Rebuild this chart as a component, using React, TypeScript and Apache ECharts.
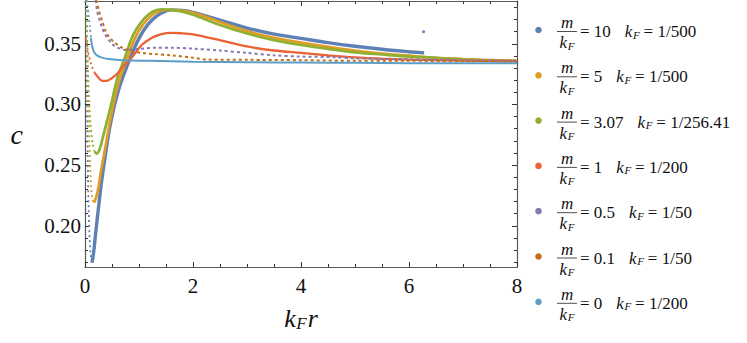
import React, { useEffect, useRef } from 'react';
import * as echarts from 'echarts';

// ---- legend / series meta ----
const massRatios = ['10', '5', '3.07', '1', '0.5', '0.1', '0'];
const kFValues = ['1/500', '1/500', '1/256.41', '1/200', '1/50', '1/50', '1/200'];
const colors = ['#5E81B5', '#E19C24', '#8FB032', '#EB6235', '#8778B3', '#C56E1A', '#5D9EC7'];

// ---- ticks ----
const xMin = 0;
const xMax = 8;
const xInterval = 2;
const yMin = 0.166;
const yMax = 0.3853;
const yMajorTicks = [0.2, 0.25, 0.3, 0.35];
const yMinorTicks = [0.17, 0.18, 0.19, 0.21, 0.22, 0.23, 0.24, 0.26, 0.27, 0.28, 0.29, 0.31, 0.32, 0.33, 0.34, 0.36, 0.37, 0.38];

// ---- data: [k_F r, c] ----
const m10Near: [number, number][] = [
  [0.02, 0.386], [0.035, 0.33], [0.05, 0.26], [0.07, 0.21], [0.1, 0.178], [0.13, 0.1695],
];
const m10: [number, number][] = [
  [0.13, 0.1695], [0.16, 0.178],
  [0.2, 0.195], [0.25, 0.215], [0.3, 0.234], [0.37, 0.256], [0.45, 0.279], [0.55, 0.3], [0.65, 0.316],
  [0.8, 0.334], [0.95, 0.35], [1.1, 0.362], [1.25, 0.37], [1.4, 0.375], [1.6, 0.378], [1.8, 0.3775],
  [2, 0.376], [2.5, 0.3695], [3, 0.363], [3.5, 0.358], [4, 0.3545], [4.5, 0.351], [5, 0.348], [5.5, 0.3455],
  [6, 0.3435], [6.28, 0.3425],
];
const m10Outlier: [number, number][] = [[6.27, 0.36]];
const m5Near: [number, number][] = [
  [0.03, 0.386], [0.05, 0.33], [0.08, 0.27], [0.11, 0.235], [0.14, 0.221], [0.17, 0.219],
];
const m5: [number, number][] = [
  [0.17, 0.219], [0.21, 0.224],
  [0.25, 0.232], [0.3, 0.246], [0.37, 0.263], [0.45, 0.283], [0.55, 0.305], [0.65, 0.322], [0.78, 0.338],
  [0.9, 0.352], [1.0, 0.361], [1.15, 0.37], [1.3, 0.3755], [1.5, 0.378], [1.7, 0.3778], [2, 0.3755],
  [2.5, 0.368], [3, 0.3605], [3.5, 0.355], [4, 0.351], [4.5, 0.3475], [5, 0.3445], [5.5, 0.342],
  [6, 0.3402], [6.5, 0.3385], [7, 0.3375], [7.5, 0.3365], [8, 0.336],
];
const m307Near: [number, number][] = [
  [0.02, 0.386], [0.04, 0.35], [0.07, 0.31], [0.1, 0.285], [0.14, 0.268], [0.18, 0.261],
];
const m307: [number, number][] = [
  [0.18, 0.261], [0.22, 0.2595],
  [0.27, 0.263], [0.32, 0.271], [0.4, 0.285], [0.5, 0.303], [0.6, 0.322], [0.74, 0.339], [0.85, 0.353],
  [0.95, 0.362], [1.1, 0.371], [1.25, 0.3765], [1.4, 0.3785], [1.6, 0.378], [1.8, 0.3765], [2, 0.374],
  [2.5, 0.3655], [3, 0.3585], [3.5, 0.353], [4, 0.349], [4.5, 0.3458], [5, 0.343], [5.5, 0.3412],
  [6, 0.3395], [6.5, 0.3385], [7, 0.337], [7.5, 0.3362], [8, 0.3358],
];
const m1Near: [number, number][] = [
  [0.02, 0.355], [0.05, 0.345], [0.09, 0.337], [0.13, 0.331], [0.18, 0.326],
];
const m1: [number, number][] = [
  [0.18, 0.326], [0.25, 0.322], [0.32, 0.3195],
  [0.4, 0.3195], [0.5, 0.3218], [0.6, 0.3255], [0.7, 0.331], [0.87, 0.339], [1.05, 0.349], [1.24, 0.355],
  [1.4, 0.3578], [1.6, 0.359], [1.8, 0.3587], [2, 0.3578], [2.5, 0.353], [3, 0.3478], [3.5, 0.3445],
  [4, 0.3425], [4.5, 0.3405], [5, 0.3388], [5.5, 0.3377], [6, 0.337], [7, 0.3362], [8, 0.3358],
];
const m05: [number, number][] = [
  [0.2, 0.386], [0.22, 0.378], [0.26, 0.371], [0.31, 0.364], [0.36, 0.359], [0.41, 0.355], [0.48, 0.351],
  [0.55, 0.348], [0.65, 0.346], [0.74, 0.345], [0.9, 0.3455], [1.1, 0.3462], [1.3, 0.3468], [1.6, 0.3468],
  [2, 0.346], [2.5, 0.3445], [3, 0.3425], [3.5, 0.3405], [4, 0.3395], [4.6, 0.339], [5, 0.338],
  [6, 0.3372], [7, 0.3365], [8, 0.336],
];
const m01: [number, number][] = [
  [0.2, 0.386], [0.22, 0.384], [0.26, 0.377], [0.31, 0.37], [0.37, 0.362], [0.44, 0.356], [0.55, 0.351],
  [0.69, 0.3467], [0.85, 0.344], [1.05, 0.3425], [1.3, 0.3415], [1.6, 0.3405], [2, 0.3385], [2.26, 0.337],
  [3, 0.3368], [4, 0.3365], [5, 0.336], [6, 0.336], [7, 0.3356], [8, 0.3355],
];
const m0Near: [number, number][] = [
  [0.03, 0.386], [0.05, 0.38], [0.07, 0.372], [0.09, 0.364], [0.11, 0.355],
];
const m0: [number, number][] = [
  [0.11, 0.355], [0.13, 0.3485], [0.17, 0.343],
  [0.22, 0.3405], [0.3, 0.3388], [0.44, 0.3375], [0.7, 0.3365], [1.2, 0.336], [2, 0.3352], [3, 0.3348],
  [4, 0.3345], [5, 0.3343], [6, 0.334], [7, 0.334], [8, 0.334],
];

const mainData = [m10, m5, m307, m1, m05, m01, m0];
const nearData: ([number, number][] | null)[] = [m10Near, m5Near, m307Near, m1Near, null, null, m0Near];
const lineWidths = [3.4, 2.7, 2.7, 2.3, 2, 2, 2];
const lineTypes: any[] = ['solid', 'solid', 'solid', 'solid', [3, 3], [3, 3], 'solid'];

const LS = 'Liberation Serif';

// approximate advance widths (em) of Liberation Serif glyphs used for placing sub/superscripts
const EM_ITALIC_K = 0.444;
const EM_ITALIC_F = 0.611;
const EM_ITALIC_R = 0.389;
const EM_DIGIT = 0.5;
const EM_EQ = 0.564;
const EM_SPACE = 0.25;
const EM_DOT = 0.25;

function plainWidth(t: string, size: number) {
  let w = 0;
  for (const ch of t) {
    if (ch === '=') w += EM_EQ;
    else if (ch === ' ') w += EM_SPACE;
    else if (ch === '.') w += EM_DOT;
    else w += EM_DIGIT;
  }
  return w * size;
}

export default function App() {
  const ref = useRef<HTMLDivElement>(null);

  useEffect(() => {
    if (!ref.current) return;
    const chart = echarts.init(ref.current, null, { renderer: 'svg' });

    const series: any[] = [];
    mainData.forEach((d, i) => {
      const near = nearData[i];
      if (near) {
        series.push({
          type: 'line', data: near, showSymbol: false, smooth: 0.3,
          lineStyle: { color: colors[i], width: 1.8, type: [2, 3] },
          itemStyle: { color: colors[i] },
        });
      }
      series.push({
        type: 'line', data: d, showSymbol: false, smooth: 0.3,
        lineStyle: { color: colors[i], width: lineWidths[i], type: lineTypes[i] },
        itemStyle: { color: colors[i] },
      });
    });
    series.push({
      type: 'line', data: m10Outlier, showSymbol: true, symbol: 'circle', symbolSize: 3,
      lineStyle: { width: 0 }, itemStyle: { color: colors[0], borderWidth: 0 },
    });

    const txt = '#111';
    const T = (text: string, x: number, y: number, size: number, italic: boolean) => {
      const style: any = { text, fontFamily: LS, fontSize: size, fill: txt, verticalAlign: 'middle' };
      if (italic) style.fontStyle = 'italic';
      return { type: 'text', x, y, style };
    };

    const els: any[] = [];
    massRatios.forEach((mr, i) => {
      const yc = 31.5 + 45.3 * i;
      els.push({ type: 'circle', shape: { cx: 538.5, cy: yc - 1.5, r: 3.3 }, style: { fill: colors[i] } });
      // fraction m / k_F
      els.push(T('m', 561, yc - 9, 17, true));
      els.push({ type: 'line', shape: { x1: 557, y1: yc, x2: 577, y2: yc }, style: { stroke: '#222', lineWidth: 0.8 } });
      const kw = EM_ITALIC_K * 17;
      const fw = EM_ITALIC_F * 11;
      const k0 = 567 - (kw + fw + 0.5) / 2;
      els.push(T('k', k0, yc + 11, 17, true));
      els.push(T('F', k0 + kw + 0.5, yc + 14, 11, true));
      // = value   k_F = value
      const s1 = `= ${mr}`;
      els.push(T(s1, 580, yc, 17, false));
      const kx = 580 + plainWidth(s1, 17) + 14;
      els.push(T('k', kx, yc, 17, true));
      els.push(T('F', kx + kw + 0.5, yc + 3, 11, true));
      els.push(T(`= ${kFValues[i]}`, kx + kw + fw + 4.5, yc, 17, false));
    });

    // x axis title k_F r
    const xk = EM_ITALIC_K * 26;
    const xf = EM_ITALIC_F * 17;
    const xr = EM_ITALIC_R * 26;
    const x0 = 301 - (xk + xf + xr + 1.5) / 2;
    els.push(T('k', x0, 318, 26, true));
    els.push(T('F', x0 + xk + 0.5, 323, 17, true));
    els.push(T('r', x0 + xk + xf + 1.5, 318, 26, true));

    const labelFmt = (v: number) => v.toFixed(2);
    const axisLineStyle = { color: '#5a5a5a', width: 1.2 };
    const tickStyle = { color: '#333', width: 1 };

    chart.setOption({
      animation: false,
      backgroundColor: '#ffffff',
      grid: { left: 85, right: 230, top: 1, bottom: 76 },
      xAxis: [
        {
          type: 'value', position: 'bottom', min: xMin, max: xMax, interval: xInterval,
          axisLine: { lineStyle: axisLineStyle },
          axisTick: { inside: true, length: 5, lineStyle: tickStyle },
          minorTick: { show: true, splitNumber: 4, length: 3, lineStyle: tickStyle },
          axisLabel: { fontFamily: LS, fontSize: 21, color: txt, margin: 8 },
          splitLine: { show: false },
        },
        {
          type: 'value', position: 'top', min: xMin, max: xMax, interval: xInterval,
          axisLine: { lineStyle: axisLineStyle },
          axisTick: { inside: true, length: 5, lineStyle: tickStyle },
          minorTick: { show: true, splitNumber: 4, length: 3, lineStyle: tickStyle },
          axisLabel: { show: false }, splitLine: { show: false },
        },
      ],
      yAxis: [
        {
          type: 'value', min: yMin, max: yMax, position: 'left',
          axisLine: { show: true, lineStyle: axisLineStyle },
          axisTick: { show: true, inside: true, length: 5, lineStyle: tickStyle, customValues: yMajorTicks },
          axisLabel: { fontFamily: LS, fontSize: 21, color: txt, margin: 4, formatter: labelFmt, customValues: yMajorTicks },
          splitLine: { show: false },
          name: 'c', nameLocation: 'middle', nameRotate: 0, nameGap: 62,
          nameTextStyle: { fontFamily: LS, fontStyle: 'italic', fontSize: 28, color: txt },
        },
        {
          type: 'value', min: yMin, max: yMax, position: 'left',
          axisLine: { show: false },
          axisTick: { show: true, inside: true, length: 3, lineStyle: tickStyle, customValues: yMinorTicks },
          axisLabel: { show: false }, splitLine: { show: false },
        },
        {
          type: 'value', min: yMin, max: yMax, position: 'right',
          axisLine: { show: true, lineStyle: axisLineStyle },
          axisTick: { show: true, inside: true, length: 5, lineStyle: tickStyle, customValues: yMajorTicks },
          axisLabel: { show: false }, splitLine: { show: false },
        },
        {
          type: 'value', min: yMin, max: yMax, position: 'right',
          axisLine: { show: false },
          axisTick: { show: true, inside: true, length: 3, lineStyle: tickStyle, customValues: yMinorTicks },
          axisLabel: { show: false }, splitLine: { show: false },
        },
      ],
      series,
      graphic: els,
    });

    return () => chart.dispose();
  }, []);

  return (
    <div ref={ref} style={{ position: 'fixed', left: 0, top: 0, width: 747, height: 343, background: '#fff' }} />
  );
}
